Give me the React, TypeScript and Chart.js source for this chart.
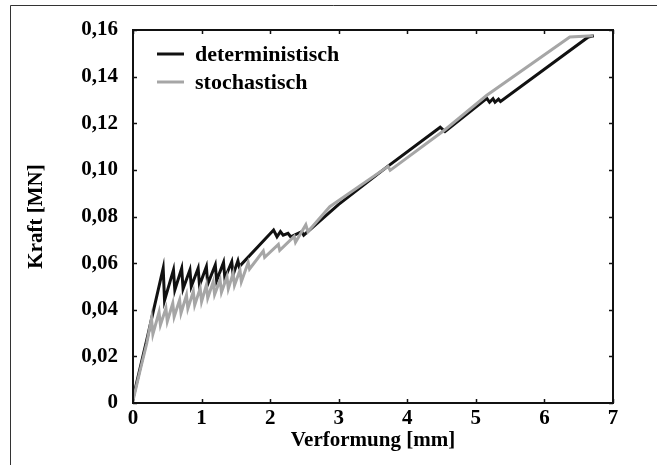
import React, { useEffect, useRef } from "react";
import { Chart, registerables } from "chart.js";

Chart.register(...registerables);

// ---- data ----
const seriesLabels = ["deterministisch", "stochastisch"];

const detX = [
  0, 0.1, 0.2, 0.27, 0.44, 0.46, 0.59, 0.61, 0.71, 0.73, 0.83, 0.85, 0.95, 0.97,
  1.07, 1.09, 1.2, 1.22, 1.32, 1.34, 1.44, 1.46, 1.53, 1.55, 2.05, 2.1, 2.15,
  2.19, 2.26, 2.3, 2.46, 2.49, 3.0, 3.7, 4.48, 4.55, 5.16, 5.2, 5.25, 5.28, 5.33,
  5.36, 6.64, 6.72,
];
const detY = [
  0.002, 0.0145, 0.027, 0.036, 0.0578, 0.044, 0.0571, 0.0485, 0.0578, 0.049,
  0.0571, 0.05, 0.0578, 0.0505, 0.0585, 0.051, 0.0592, 0.0525, 0.0603, 0.0535,
  0.0606, 0.055, 0.061, 0.0585, 0.0742, 0.0713, 0.0735, 0.072, 0.0728, 0.0713,
  0.0735, 0.072, 0.0852, 0.1012, 0.1183, 0.1164, 0.1307, 0.129, 0.1305, 0.129,
  0.1303, 0.1293, 0.157, 0.1575,
];

const stoX = [
  0, 0.1, 0.2, 0.27, 0.29, 0.38, 0.4, 0.48, 0.5, 0.58, 0.6, 0.68, 0.7, 0.78, 0.8,
  0.88, 0.9, 0.98, 1.0, 1.07, 1.09, 1.17, 1.19, 1.27, 1.29, 1.37, 1.39, 1.46,
  1.48, 1.56, 1.58, 1.68, 1.7, 1.9, 1.92, 2.12, 2.14, 2.35, 2.37, 2.52, 2.55,
  2.87, 3.72, 3.75, 4.55, 5.16, 6.37, 6.71,
];
const stoY = [
  0.001, 0.0135, 0.0255, 0.0363, 0.0295, 0.039, 0.0335, 0.0406, 0.035, 0.0428,
  0.037, 0.0442, 0.0385, 0.0463, 0.0405, 0.0478, 0.042, 0.0492, 0.0435, 0.0506,
  0.045, 0.052, 0.0465, 0.0528, 0.0475, 0.0542, 0.049, 0.0556, 0.0505, 0.057,
  0.052, 0.0603, 0.0575, 0.0652, 0.0625, 0.068, 0.0655, 0.0715, 0.069, 0.0765,
  0.0735, 0.0842, 0.1015, 0.0998, 0.1172, 0.132, 0.157, 0.1575,
];

const xTickLabels = ["0", "1", "2", "3", "4", "5", "6", "7"];
const yTickLabels = ["0", "0,02", "0,04", "0,06", "0,08", "0,10", "0,12", "0,14", "0,16"];
const xTitle = "Verformung [mm]";
const yTitle = "Kraft [MN]";

const FONT = "'Liberation Serif', 'Times New Roman', serif";
const BLACK = "#111111";
const GRAY = "#a6a6a6";

const pts = (xs: number[], ys: number[]) => xs.map((x, i) => ({ x, y: ys[i] }));

const framePlugin = {
  id: "frameAndTicks",
  beforeDraw(chart: any) {
    const ctx = chart.ctx;
    ctx.save();
    ctx.strokeStyle = "#333";
    ctx.lineWidth = 1;
    ctx.beginPath();
    ctx.moveTo(10.5, 465);
    ctx.lineTo(10.5, 5.5);
    ctx.lineTo(657, 5.5);
    ctx.stroke();
    ctx.restore();
  },
  afterDraw(chart: any) {
    const { ctx, chartArea } = chart;
    const { left, right, top, bottom } = chartArea;
    const xs = chart.scales.x;
    const ys = chart.scales.y;
    ctx.save();
    ctx.strokeStyle = BLACK;
    ctx.lineWidth = 1.5;
    const tl = 4;
    ctx.beginPath();
    xs.ticks.forEach((t: any) => {
      const p = Math.round(xs.getPixelForValue(t.value)) + 0.5;
      ctx.moveTo(p, bottom);
      ctx.lineTo(p, bottom - tl);
      ctx.moveTo(p, top);
      ctx.lineTo(p, top + tl);
    });
    ys.ticks.forEach((t: any) => {
      const p = Math.round(ys.getPixelForValue(t.value)) + 0.5;
      ctx.moveTo(left, p);
      ctx.lineTo(left + tl, p);
      ctx.moveTo(right, p);
      ctx.lineTo(right - tl, p);
    });
    ctx.stroke();
    ctx.lineWidth = 2;
    ctx.strokeRect(left, top, right - left, bottom - top);

    // legend inside plot area
    ctx.font = `bold 22px ${FONT}`;
    ctx.textBaseline = "middle";
    ctx.fillStyle = "#000";
    chart.data.datasets.forEach((ds: any, i: number) => {
      const yy = top + 24 + i * 28;
      ctx.strokeStyle = ds.borderColor;
      ctx.lineWidth = 3;
      ctx.beginPath();
      ctx.moveTo(left + 24, yy);
      ctx.lineTo(left + 51, yy);
      ctx.stroke();
      ctx.fillText(ds.label, left + 62, yy + 1);
    });
    ctx.restore();
  },
};

export default function App() {
  const ref = useRef<HTMLCanvasElement | null>(null);

  useEffect(() => {
    if (!ref.current) return;
    const chart = new Chart(ref.current, {
      type: "line",
      data: {
        datasets: [
          {
            label: seriesLabels[0],
            data: pts(detX, detY),
            borderColor: BLACK,
            borderWidth: 3,
            pointRadius: 0,
            tension: 0,
            fill: false,
            order: 1,
          },
          {
            label: seriesLabels[1],
            data: pts(stoX, stoY),
            borderColor: GRAY,
            borderWidth: 3,
            pointRadius: 0,
            tension: 0,
            fill: false,
            order: 0,
          },
        ],
      },
      options: {
        animation: false,
        responsive: false,
        layout: { padding: { left: 0, top: 30, right: 44, bottom: 0 } },
        plugins: { legend: { display: false }, tooltip: { enabled: false } },
        scales: {
          x: {
            type: "linear",
            min: 0,
            max: 7,
            grid: { display: false },
            border: { display: false },
            ticks: {
              stepSize: 1,
              padding: -5,
              color: "#000",
              font: { family: FONT, size: 21, weight: "bold" },
              callback: (_v: any, i: number) => xTickLabels[i],
            },
            title: {
              display: true,
              text: xTitle,
              color: "#000",
              font: { family: FONT, size: 21, weight: "bold" },
              padding: { top: 0, bottom: 12 },
            },
            afterFit: (s: any) => {
              s.height = 62;
            },
          },
          y: {
            type: "linear",
            min: 0,
            max: 0.16,
            grid: { display: false },
            border: { display: false },
            ticks: {
              stepSize: 0.02,
              padding: 7,
              color: "#000",
              font: { family: FONT, size: 21, weight: "bold" },
              callback: (_v: any, i: number) => yTickLabels[i],
            },
            title: {
              display: true,
              text: yTitle,
              color: "#000",
              font: { family: FONT, size: 21, weight: "bold" },
              padding: { top: 24, bottom: 0 },
            },
            afterFit: (s: any) => {
              s.width = 133;
            },
          },
        },
      },
      plugins: [framePlugin],
    } as any);
    return () => chart.destroy();
  }, []);

  return (
    <div style={{ position: "fixed", left: 0, top: 0, width: 657, height: 465, background: "#fff" }}>
      <canvas ref={ref} width={657} height={465} style={{ display: "block" }} />
    </div>
  );
}
